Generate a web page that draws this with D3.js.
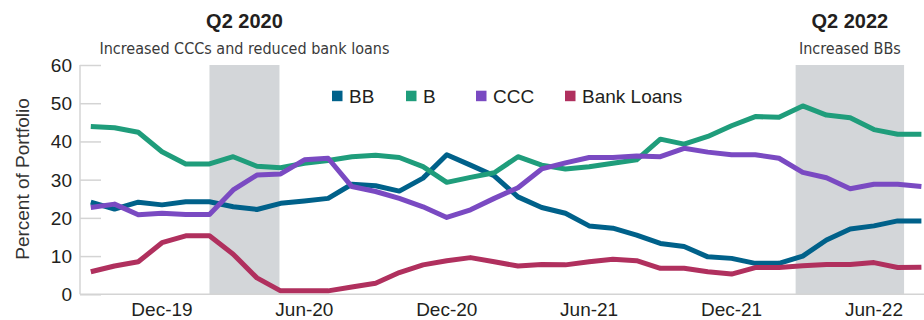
<!DOCTYPE html>
<html>
<head>
<meta charset="utf-8">
<script src="https://cdn.jsdelivr.net/npm/d3@7"></script>
<style>
body { margin: 0; background: #fff; }
text { font-family: "Liberation Sans", Arial, sans-serif; fill: #231f20; }
.sub { font-family: "Liberation Sans Narrow", "DejaVu Sans Condensed", sans-serif; fill: #3a3a3a; }
</style>
</head>
<body>
<div id="chart"></div>
<script>
// monthly, Sep-19 .. Aug-22
var months = ["Sep-19","Oct-19","Nov-19","Dec-19","Jan-20","Feb-20","Mar-20","Apr-20","May-20","Jun-20","Jul-20","Aug-20",
  "Sep-20","Oct-20","Nov-20","Dec-20","Jan-21","Feb-21","Mar-21","Apr-21","May-21","Jun-21","Jul-21","Aug-21",
  "Sep-21","Oct-21","Nov-21","Dec-21","Jan-22","Feb-22","Mar-22","Apr-22","May-22","Jun-22","Jul-22","Aug-22"];

var bb = [24.1,22.3,24.1,23.4,24.2,24.2,22.9,22.2,23.8,24.4,25.1,28.8,
  28.4,27.0,30.4,36.5,33.8,31.0,25.5,22.7,21.2,17.9,17.3,15.5,
  13.3,12.5,9.8,9.4,8.1,8.1,10.0,14.2,17.1,17.9,19.2,19.2];
var b = [43.9,43.6,42.4,37.3,34.1,34.1,36.0,33.5,33.1,34.3,35.0,36.0,
  36.4,35.8,33.4,29.3,30.6,31.8,36.0,33.8,32.8,33.4,34.3,35.2,
  40.6,39.3,41.3,44.1,46.5,46.3,49.3,46.9,46.2,43.1,41.9,41.9];
var ccc = [22.7,23.6,20.8,21.2,20.9,20.9,27.3,31.2,31.5,35.2,35.6,28.2,
  26.9,25.1,22.9,20.1,22.1,25.1,27.9,32.8,34.4,35.8,35.8,36.2,
  36.0,38.2,37.2,36.5,36.5,35.6,31.9,30.5,27.6,28.8,28.8,28.2];
var bankLoans = [5.9,7.4,8.5,13.5,15.3,15.3,10.5,4.3,0.9,0.9,0.9,1.9,
  2.9,5.7,7.7,8.8,9.6,8.5,7.4,7.8,7.7,8.5,9.2,8.8,
  6.8,6.8,5.9,5.3,7.0,7.0,7.5,7.8,7.8,8.3,7.0,7.1];

var tickMonths = ["Dec-19","Jun-20","Dec-20","Jun-21","Dec-21","Jun-22"];
var yTicks = [0,10,20,30,40,50,60];

// shaded periods in month-index units
var shadeStart = [5, 29.7];
var shadeEnd = [7.95, 34.27];
var shadeTitle = ["Q2 2020", "Q2 2022"];
var shadeNote = ["Increased CCCs and reduced bank loans", "Increased BBs"];

var seriesNames = ["BB","B","CCC","Bank Loans"];
var seriesColors = ["#00618a","#1f9d7b","#7a4ac2","#b0305e"];
var seriesData = [bb, b, ccc, bankLoans];

var W = 924, H = 320;
var svg = d3.select("#chart").append("svg").attr("width", W).attr("height", H);

var x = d3.scaleLinear().domain([0, months.length - 1]).range([90.8, 921.4]);
var y = d3.scaleLinear().domain([0, 60]).range([294.3, 65]);

// shaded bands
shadeStart.forEach(function(s, i) {
  var x0 = x(s), x1 = x(shadeEnd[i]);
  svg.append("rect").attr("x", x0).attr("y", y(60)).attr("width", x1 - x0)
    .attr("height", y(0) - y(60)).attr("fill", "#d3d6d9");
  var cx = (x0 + x1) / 2;
  svg.append("text").attr("x", cx).attr("y", 28).attr("text-anchor", "middle")
    .style("font-size", "20px").style("font-weight", "bold").text(shadeTitle[i]);
  svg.append("text").attr("class", "sub").attr("x", cx).attr("y", 54).attr("text-anchor", "middle")
    .style("font-size", "16px").text(shadeNote[i]);
});

// y axis (ticks as short grid stubs)
var yAxis = svg.append("g").attr("transform", "translate(80,0)")
  .call(d3.axisRight(y).tickValues(yTicks).tickSize(21).tickFormat(""));
yAxis.select(".domain").remove();
yAxis.selectAll(".tick line").attr("stroke", "#d4d4d4").attr("stroke-width", 1.5);

svg.selectAll(".ylab").data(yTicks).enter().append("text")
  .attr("x", 72).attr("y", function(d) { return y(d) + 7; })
  .attr("text-anchor", "end").style("font-size", "19px").text(function(d) { return d; });

svg.append("line").attr("x1", 80).attr("x2", 80).attr("y1", y(60)).attr("y2", y(0))
  .attr("stroke", "#d4d4d4").attr("stroke-width", 1.5);
svg.append("line").attr("x1", 80).attr("x2", W).attr("y1", y(0)).attr("y2", y(0))
  .attr("stroke", "#d4d4d4").attr("stroke-width", 1.5);

// x tick labels
svg.selectAll(".xlab").data(tickMonths).enter().append("text")
  .attr("x", function(d) { return x(months.indexOf(d)); }).attr("y", 316)
  .attr("text-anchor", "middle").style("font-size", "19px").text(function(d) { return d; });

// y title
svg.append("text").attr("transform", "translate(29,179) rotate(-90)")
  .attr("text-anchor", "middle").style("font-size", "19px").style("fill", "#333")
  .text("Percent of Portfolio");

// lines
var line = d3.line().x(function(d, i) { return x(i); }).y(function(d) { return y(d); });
seriesData.forEach(function(s, i) {
  svg.append("path").datum(s).attr("d", line).attr("fill", "none")
    .attr("stroke", seriesColors[i]).attr("stroke-width", 5)
    .attr("stroke-linejoin", "round");
});

// legend
var legX = [332, 406, 476, 565];
seriesNames.forEach(function(n, i) {
  svg.append("rect").attr("x", legX[i]).attr("y", 90.7).attr("width", 10.5).attr("height", 10.5)
    .attr("fill", seriesColors[i]);
  svg.append("text").attr("x", legX[i] + 17).attr("y", 103).style("font-size", "19px").text(n);
});
</script>
</body>
</html>
